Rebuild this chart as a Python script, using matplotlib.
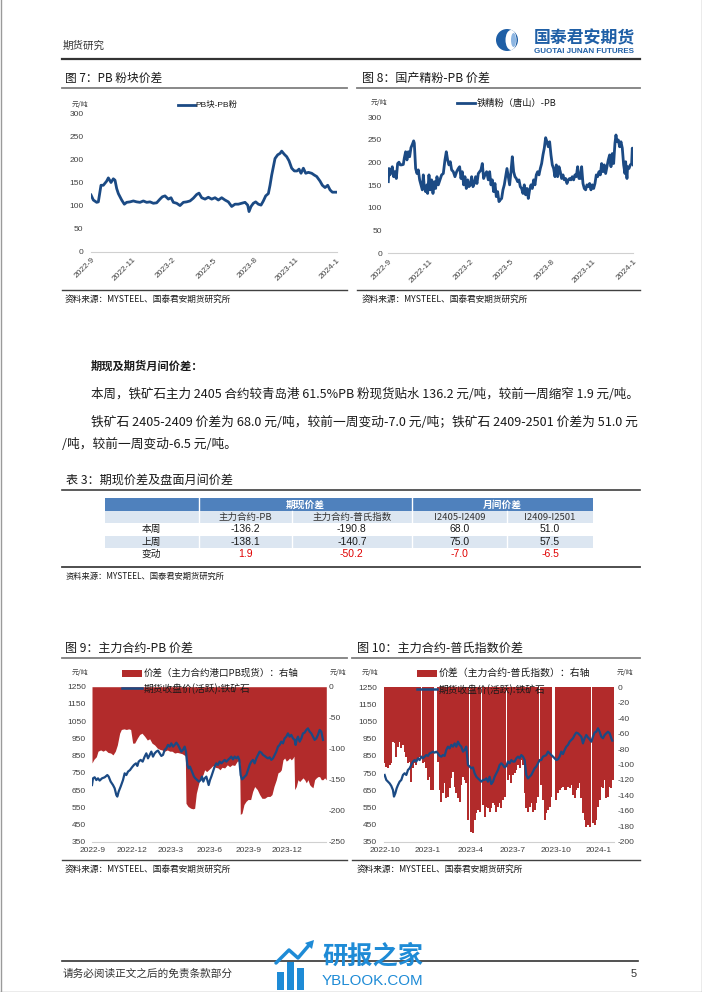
import numpy as np
import matplotlib
matplotlib.use('Agg')
import matplotlib.pyplot as plt
from matplotlib.lines import Line2D
from matplotlib.patches import Rectangle, Ellipse, Polygon

plt.rcParams['font.family'] = ['Liberation Sans', 'Noto Sans CJK SC', 'DejaVu Sans']
plt.rcParams['axes.unicode_minus'] = False
nan = float('nan')

# ---------------- data ----------------
# 图7 PB块-PB粉 (元/吨)
t7 = [18,25,35,40,48,55,65,70,78,85,90,95,100,110,118,125,135,145,155,165,175,185,195,205,215,225,232,240,250,258,
      265,275,285,295,305,315,325,335,342,350,360,370,380,390,400,410,420,430,440,450,460,470,480,488,492,498,505,512,520,528,
      535,542,550,555,560,565,570,578,585,590,598,605,612,620,628,636,642,648,655,662,670,680,688,695,705,712,720,728,735,742,750,755]
v7 = [123,112,107,108,144,144,153,160,150,158,155,137,126,112,103,107,108,110,108,107,110,107,108,105,106,114,119,121,114,117,
      107,105,100,107,108,110,116,124,127,117,114,118,114,117,112,117,112,108,98,103,103,105,107,101,87,98,105,108,103,101,
      110,121,126,144,166,184,202,210,213,218,211,206,197,181,175,175,179,170,181,170,172,170,166,163,153,144,139,144,134,129,129,129]

# 图8 铁精粉(唐山)-PB (元/吨)
t8 = [10,12,15,18,22,26,30,34,38,42,46,50,55,58,62,66,70,74,78,82,86,88,92,96,100,104,108,112,115,118,
      122,126,128,132,136,140,144,148,152,156,160,165,170,175,180,184,188,192,196,200,205,210,215,220,224,228,232,236,240,244,
      248,252,256,260,264,268,272,276,280,284,288,292,296,300,305,310,314,318,322,326,330,334,338,342,346,350,354,358,362,366,
      370,374,378,382,386,390,394,398,402,406,410,414,418,422,426,430,434,438,442,446,450,454,458,462,466,470,474,478,482,486,
      490,494,498,502,506,510,514,518,522,526,530,534,538,542,546,550,554,558,562,566,570,574,578,582,586,590,594,598,602,606,
      610,614,618,622,626,630,634,638,642,646,650,654,658,662,666,670,674,678,682,686,690,693,696,700,704,708,712,716,720,722,
      726,728,732,736,740,742,745]
v8 = [158,187,173,180,191,169,180,165,198,201,195,195,196,210,224,206,224,213,233,240,248,243,187,176,184,162,151,140,173,147,
      136,151,132,173,140,162,132,158,143,169,151,162,173,176,206,224,206,195,202,184,180,169,180,187,191,165,180,151,169,143,
      162,147,151,169,147,154,169,154,176,180,184,198,165,173,180,162,180,151,162,136,154,125,136,114,118,121,140,151,169,187,
      169,151,180,213,180,169,165,158,162,147,143,132,151,129,143,121,140,151,143,162,151,173,180,173,187,198,217,232,255,246,
      235,246,217,195,187,169,195,169,191,180,165,173,162,165,154,162,165,162,169,162,173,169,191,165,165,191,154,143,140,151,
      147,154,140,151,143,154,173,169,180,173,198,180,195,176,191,206,217,191,220,198,243,261,246,250,235,246,232,195,176,202,
      165,191,187,195,198,232,195]

# 图9 价差(主力合约-港口PB现货, 右轴) 与 期货收盘价(活跃):铁矿石 (左轴)
t9_basis = [12,18,25,30,38,45,52,60,68,75,82,88,95,100,108,115,122,128,134,140,148,155,162,170,178,185,192,200,208,215,
            222,230,238,245,252,260,268,275,282,288,292,294,300,308,315,320,325,330,335,340,345,350,356,362,368,375,382,390,396,402,
            410,418,425,432,440,448,452,455,457,462,468,474,480,488,494,500,508,515,522,530,538,546,552,558,565,570,576,580,585,590,
            595,600,605,610,615,618,620,625,630,635,640,645,650,655,660,665,670,675,680,685,690,695,700,705,710,715]
v9_basis = [-123,-117,-113,-104,-102,-104,-102,-106,-107,-110,-104,-94,-75,-69,-68,-69,-68,-69,-91,-91,
            -83,-77,-75,-80,-86,-84,-91,-94,-99,-101,-102,-104,-102,-104,-104,-107,-106,-107,-108,-110,
            -112,-188,-193,-196,-197,-196,-172,-161,-150,-145,-142,-134,-137,-134,-131,-127,-130,-131,-134,-130,
            -131,-126,-129,-126,-127,-120,-120,-123,-206,-204,-190,-185,-182,-182,-169,-161,-166,-174,-180,-180,
            -177,-177,-174,-161,-150,-139,-137,-134,-118,-115,-120,-118,-115,-118,-115,-112,-166,-161,-150,-153,
            -150,-147,-150,-155,-150,-158,-161,-163,-150,-147,-145,-145,-150,-150,-147,-150]
t9_fut = [12,15,20,25,30,35,42,50,58,62,68,75,80,85,88,92,98,105,110,115,120,126,132,138,144,148,152,158,164,170,
          175,180,185,190,195,200,205,210,215,220,225,230,235,240,245,250,255,260,265,270,275,280,285,290,294,298,302,306,312,318,
          322,328,333,338,342,346,350,355,358,362,366,370,375,380,385,390,395,400,405,410,415,420,425,430,435,440,445,450,454,458,
          462,466,470,475,480,485,490,495,500,505,510,515,520,525,530,535,540,545,550,555,560,565,570,575,580,585,590,595,600,605,
          610,615,620,623,626,630,635,640,645,650,655,660,665,670,675,680,685,690,695,700,705]
v9_fut = [679,718,724,708,718,705,718,724,737,728,699,679,660,621,612,641,670,708,747,737,757,766,782,796,805,790,815,825,815,844,
          863,834,854,873,844,863,873,879,863,848,854,883,892,912,902,921,902,912,925,912,892,873,883,902,873,796,776,786,757,728,
          718,708,699,708,728,699,718,728,708,679,708,728,757,786,805,796,815,805,815,825,815,825,834,844,828,844,834,844,825,737,
          712,718,728,737,766,796,815,825,805,834,854,873,867,854,848,840,834,840,825,834,854,873,902,912,931,921,950,960,979,960,
          970,950,941,912,941,960,931,950,979,983,999,1008,989,979,960,941,950,970,999,989,941]

# 图10 价差(主力合约-普氏指数, 右轴) 与 期货收盘价(活跃):铁矿石 (左轴); nan = 无数据
t10_basis = list(range(20, 706, 5))
v10_basis = [-98.5,-103.7,-105.0,-100.6,-98.5,-70.4,-72.6,-89.9,-76.9,-70.4,
             -79.1,-74.7,-83.4,-89.9,-98.5,-96.3,-122.2,-105.0,-98.5,-100.6,
             -94.2,-89.9,nan,-98.5,-96.3,-105.0,-120.1,-115.8,-133.0,-133.0,
             nan,nan,-96.3,-133.0,-148.2,-137.4,-124.4,-143.8,-141.7,-130.9,
             -117.9,-109.3,-128.7,-137.4,-143.8,-148.2,-126.6,-115.8,-120.1,-124.4,
             -171.9,nan,-187.0,-189.2,-171.9,-163.3,-159.0,-161.1,nan,-152.5,
             -167.6,-154.6,-156.8,-161.1,-156.8,-150.3,-152.5,-161.1,-154.6,-150.3,
             -156.8,-146.0,-141.7,nan,-120.1,-113.6,-124.4,-113.6,-111.4,-107.1,
             -100.6,-105.0,-94.2,-100.6,-137.4,-156.8,-161.1,-154.6,-150.3,-161.1,
             -159.0,-150.3,-141.7,nan,-126.6,-146.0,-171.9,-163.3,-159.0,-154.6,
             -141.7,nan,nan,-146.0,-137.4,-133.0,-130.9,-128.7,-133.0,-133.0,
             -128.7,-130.9,-126.6,-139.5,-143.8,-133.0,-130.9,-124.4,-143.8,-163.3,
             -171.9,-180.5,-178.4,-180.5,nan,-176.2,-178.4,-171.9,-154.6,-146.0,
             -128.7,-130.9,-120.1,-143.8,-141.7,-128.7,-130.9,-120.1]
t10_fut = [20,25,30,35,40,45,48,52,56,60] + list(range(65, 701, 5)) + [703]
v10_fut = [739,710,700,690,675,651,613,632,661,680,700,710,739,749,739,768,778,797,817,826,
           817,836,826,846,836,846,855,850,865,869,875,869,875,865,850,846,855,850,885,904,
           894,914,904,923,904,933,914,904,875,885,904,797,788,778,783,749,729,719,710,700,
           710,710,719,700,729,686,700,729,749,768,797,807,797,783,791,817,807,826,817,817,
           836,846,836,855,846,826,739,719,729,739,758,778,788,807,826,826,846,850,855,875,
           865,855,846,836,826,830,846,875,861,885,904,914,933,943,953,972,986,982,972,962,
           923,953,972,958,947,933,962,986,991,1011,991,962,953,972,982,991,982,953,939]

ticks7 = ['2022-9', '2022-11', '2023-2', '2023-5', '2023-8', '2023-11', '2024-1']
ticks8 = ['2022-9', '2022-11', '2023-2', '2023-5', '2023-8', '2023-11', '2024-1']
ticks9 = ['2022-9', '2022-12', '2023-3', '2023-6', '2023-9', '2023-12']
ticks10 = ['2022-10', '2023-1', '2023-4', '2023-7', '2023-10', '2024-1']

table_groups = ['期现价差', '月间价差']
table_cols = ['主力合约-PB', '主力合约-普氏指数', 'I2405-I2409', 'I2409-I2501']
table_rows = ['本周', '上周', '变动']
table_vals = [[-136.2, -190.8, 68.0, 51.0],
              [-138.1, -140.7, 75.0, 57.5],
              [1.9, -50.2, -7.0, -6.5]]

# ---------------- figure helpers ----------------
W, H = 702, 992
fig = plt.figure(figsize=(W / 100, H / 100), dpi=100)
fig.patch.set_facecolor('white')
R = fig.canvas.get_renderer()

BLUE = '#1B4A84'
RED = '#B22B2B'
TXT = '#1a1a1a'
TICK = '#404040'
CJK = ['Noto Sans CJK SC', 'DejaVu Sans']


def fx(x):
    return x / W


def fy(y):
    return 1 - y / H


def ftext(x, y, s, size=8, width=None, ha='left', va='center', family=None, **kw):
    if family is not None:
        kw['family'] = family
    t = fig.text(fx(x), fy(y), s, fontsize=size, ha=ha, va=va, color=kw.pop('color', TXT), **kw)
    if width:
        w = t.get_window_extent(renderer=R).width
        t.set_fontsize(size * width / w)
    return t


def hline(x0, x1, y, color='#404040', lw=1.0):
    fig.add_artist(Line2D([fx(x0), fx(x1)], [fy(y), fy(y)], color=color, lw=lw))


def vline(x, y0, y1, color='#404040', lw=1.0):
    fig.add_artist(Line2D([fx(x), fx(x)], [fy(y0), fy(y1)], color=color, lw=lw))


def rect(x0, y0, x1, y1, color):
    fig.add_artist(Rectangle((fx(x0), fy(y1)), (x1 - x0) / W, (y1 - y0) / H,
                             facecolor=color, edgecolor='none', transform=fig.transFigure))


def axes_px(x0, y0, x1, y1):
    ax = fig.add_axes([fx(x0), fy(y1), (x1 - x0) / W, (y1 - y0) / H])
    ax.patch.set_visible(False)
    return ax


def clean(ax, bottom=True):
    for s in ['top', 'right', 'left']:
        ax.spines[s].set_visible(False)
    ax.spines['bottom'].set_visible(bottom)
    ax.spines['bottom'].set_color('#D0D0D0')
    ax.spines['bottom'].set_linewidth(0.8)


# ---------------- page frame ----------------
vline(0.5, 0, 991.5, color='#9a9a9a', lw=1.0)
vline(701.5, 0, 991.5, color='#9a9a9a', lw=1.0)
hline(0, 702, 991.5, color='#9a9a9a', lw=1.0)

# header
ftext(62.6, 46, '期货研究', size=8, width=42, family=CJK, color='#333333')
fig.add_artist(Ellipse((fx(507), fy(40)), 22 / W, 22 / H, facecolor='#1F5FA6', edgecolor='none'))
fig.add_artist(Ellipse((fx(511), fy(40)), 11 / W, 20 / H, facecolor='white', edgecolor='none'))
fig.add_artist(Ellipse((fx(513.5), fy(40)), 5 / W, 14 / H, facecolor='#8DB6E2', edgecolor='none'))
ftext(534, 38, '国泰君安期货', size=12, width=101, family=CJK, color='#1F5FA6', fontweight='bold')
ftext(534, 51.5, 'GUOTAI JUNAN FUTURES', size=5, width=101, color='#1F5FA6', fontweight='bold')
hline(62, 640, 59, color='#333333', lw=1.6)

# ---------------- 图7 ----------------
ftext(65, 78, '图 7：PB 粉块价差', size=9, width=97, family=CJK)
hline(62, 347, 88, color='#7f7f7f', lw=1.3)
ax7 = axes_px(91, 113.3, 336.7, 251.7)
ax7.plot(t7, v7, color=BLUE, lw=2.0, solid_joinstyle='round')
ax7.set_xlim(t7[0], t7[-1])
ax7.set_ylim(0, 300)
ax7.set_yticks(range(0, 301, 50))
ax7.set_xticks(np.linspace(t7[0], t7[-1], len(ticks7)))
ax7.set_xticklabels(ticks7, rotation=45, ha='right', va='top', rotation_mode='anchor')
clean(ax7)
ax7.tick_params(axis='y', length=0, labelsize=6, colors=TICK, pad=5.5)
ax7.tick_params(axis='x', length=0, labelsize=6, colors=TICK, pad=3.5)
ftext(88, 105, '元/吨', size=5, ha='right', family=CJK, color=TICK)
fig.add_artist(Line2D([fx(178), fx(195)], [fy(104.5), fy(104.5)], color=BLUE, lw=2.0))
ftext(195.7, 104.5, 'PB块-PB粉', size=6, width=42, color=TXT)
hline(62, 347, 290, color='#404040', lw=1.0)
ftext(65, 299, '资料来源：MYSTEEL、国泰君安期货研究所', size=6.5, width=166.7, family=CJK)

# ---------------- 图8 ----------------
ftext(361.7, 78, '图 8：国产精粉-PB 价差', size=9, width=128, family=CJK)
hline(357, 640, 88, color='#7f7f7f', lw=1.3)
ax8 = axes_px(388.3, 117.3, 633.3, 253.3)
ax8.plot(t8, v8, color=BLUE, lw=2.0, solid_joinstyle='round')
ax8.set_xlim(t8[0], t8[-1])
ax8.set_ylim(0, 300)
ax8.set_yticks(range(0, 301, 50))
ax8.set_xticks(np.linspace(t8[0], t8[-1], len(ticks8)))
ax8.set_xticklabels(ticks8, rotation=45, ha='right', va='top', rotation_mode='anchor')
clean(ax8)
ax8.tick_params(axis='y', length=0, labelsize=6, colors=TICK, pad=4.5)
ax8.tick_params(axis='x', length=0, labelsize=6, colors=TICK, pad=3.5)
ftext(387, 103, '元/吨', size=5, ha='right', family=CJK, color=TICK)
fig.add_artist(Line2D([fx(456.7), fx(475)], [fy(103.3), fy(103.3)], color=BLUE, lw=2.0))
ftext(476.7, 103.3, '铁精粉（唐山）-PB', size=6, width=80, family=CJK)
hline(357, 640, 290, color='#404040', lw=1.0)
ftext(361.7, 299, '资料来源：MYSTEEL、国泰君安期货研究所', size=6.5, width=166.7, family=CJK)

# ---------------- 正文 ----------------
ftext(90.8, 366, '期现及期货月间价差：', size=8.5, width=112, family=CJK, fontweight='bold')
ftext(90.8, 394, '本周，铁矿石主力 2405 合约较青岛港 61.5%PB 粉现货贴水 136.2 元/吨，较前一周缩窄 1.9 元/吨。',
      size=8.5, width=547, family=CJK)
l2 = ftext(90.8, 422.5, '铁矿石 2405-2409 价差为 68.0 元/吨，较前一周变动-7.0 元/吨；铁矿石 2409-2501 价差为 51.0 元',
           size=8.5, width=547, family=CJK)
ftext(62.2, 445, '/吨，较前一周变动-6.5 元/吨。', size=l2.get_fontsize(), family=CJK)

# ---------------- 表3 ----------------
ftext(65.9, 480, '表 3：期现价差及盘面月间价差', size=9, width=167, family=CJK)
hline(62, 640, 490.5, color='#404040', lw=1.2)
cx = [104.8, 198.5, 292, 411.6, 507, 593]
ry = [498, 511, 523, 535.5, 548, 560.5]
rect(cx[0], ry[0], cx[-1], ry[1], '#4F81BD')
rect(cx[0], ry[1], cx[-1], ry[2], '#DCE6F1')
rect(cx[0], ry[3], cx[-1], ry[4], '#DCE6F1')
for xv in cx[1:-1]:
    vline(xv, ry[1] if xv in (cx[2], cx[4]) else ry[0], ry[-1], color='white', lw=1.0)
ftext((cx[1] + cx[3]) / 2, (ry[0] + ry[1]) / 2, table_groups[0], size=7, family=CJK, ha='center',
      color='white', fontweight='bold')
ftext((cx[3] + cx[5]) / 2, (ry[0] + ry[1]) / 2, table_groups[1], size=7, family=CJK, ha='center',
      color='white', fontweight='bold')
for j, c in enumerate(table_cols):
    ftext((cx[j + 1] + cx[j + 2]) / 2, (ry[1] + ry[2]) / 2, c, size=6.8, family=CJK, ha='center', color='#333333')
for i, rname in enumerate(table_rows):
    yc = (ry[i + 2] + ry[i + 3]) / 2
    ftext((cx[0] + cx[1]) / 2, yc, rname, size=7, family=CJK, ha='center')
    for j, val in enumerate(table_vals[i]):
        col = '#E00000' if rname == '变动' else TXT
        ftext((cx[j + 1] + cx[j + 2]) / 2, yc, f'{val:.1f}', size=7.5, ha='center', color=col)
hline(62, 640, 567, color='#404040', lw=1.3)
ftext(65.9, 576, '资料来源：MYSTEEL、国泰君安期货研究所', size=6.5, width=159, family=CJK)

# ---------------- 图9 ----------------
ftext(65, 648.3, '图 9：主力合约-PB 价差', size=9, width=128, family=CJK)
hline(62, 347, 658, color='#7f7f7f', lw=1.3)
ax9 = axes_px(92, 686.7, 326.3, 841.7)
ax9r = ax9.twinx()
ax9r.fill_between(t9_basis, 0, v9_basis, color=RED, lw=0)
ax9.plot(t9_fut, v9_fut, color=BLUE, lw=1.6, solid_joinstyle='round')
ax9.set_zorder(ax9r.get_zorder() + 1)
ax9.patch.set_visible(False)
ax9r.patch.set_visible(False)
ax9.set_xlim(12, 715)
ax9.set_ylim(350, 1250)
ax9.set_yticks(range(350, 1251, 100))
ax9r.set_ylim(-250, 0)
ax9r.set_yticks(range(-250, 1, 50))
ax9.set_xticks(np.linspace(15, 597, len(ticks9)))
ax9.set_xticklabels(ticks9)
clean(ax9)
clean(ax9r, bottom=False)
ax9.tick_params(axis='y', length=0, labelsize=6, colors=TICK, pad=4.3)
ax9r.tick_params(axis='y', length=0, labelsize=6, colors=TICK, pad=1.5)
ax9.tick_params(axis='x', length=0, labelsize=6, colors=TICK, pad=4)
ftext(88, 673, '元/吨', size=5, ha='right', family=CJK, color=TICK)
ftext(330, 673, '元/吨', size=5, ha='left', family=CJK, color=TICK)
rect(121.7, 669.5, 141.7, 677, RED)
ftext(143.3, 673.3, '价差（主力合约港口PB现货）：右轴', size=6, width=155, family=CJK)
fig.add_artist(Line2D([fx(121.7), fx(141.7)], [fy(688.3), fy(688.3)], color=BLUE, lw=1.8))
ftext(143.3, 688.3, '期货收盘价(活跃):铁矿石', size=6, width=107, family=CJK)
hline(62, 347, 860, color='#404040', lw=1.0)
ftext(65, 869, '资料来源：MYSTEEL、国泰君安期货研究所', size=6.5, width=166.7, family=CJK)

# ---------------- 图10 ----------------
ftext(356.7, 648.3, '图 10：主力合约-普氏指数价差', size=9, width=166, family=CJK)
hline(352, 640, 658, color='#7f7f7f', lw=1.3)
ax10 = axes_px(383.8, 687.3, 613.8, 841.7)
ax10r = ax10.twinx()
ax10r.bar(t10_basis, v10_basis, width=5.8, color=RED, linewidth=0)
ax10.plot(t10_fut, v10_fut, color=BLUE, lw=1.6, solid_joinstyle='round')
ax10.set_zorder(ax10r.get_zorder() + 1)
ax10.patch.set_visible(False)
ax10r.patch.set_visible(False)
ax10.set_xlim(17.5, 707.5)
ax10.set_ylim(350, 1250)
ax10.set_yticks(range(350, 1251, 100))
ax10r.set_ylim(-200, 0)
ax10r.set_yticks(range(-200, 1, 20))
ax10.set_xticks(np.linspace(21, 661, len(ticks10)))
ax10.set_xticklabels(ticks10)
clean(ax10)
clean(ax10r, bottom=False)
ax10.tick_params(axis='y', length=0, labelsize=6, colors=TICK, pad=5)
ax10r.tick_params(axis='y', length=0, labelsize=6, colors=TICK, pad=3)
ax10.tick_params(axis='x', length=0, labelsize=6, colors=TICK, pad=4)
ftext(378.3, 673, '元/吨', size=5, ha='right', family=CJK, color=TICK)
ftext(616.7, 673, '元/吨', size=5, ha='left', family=CJK, color=TICK)
rect(416.7, 669.5, 436.7, 677, RED)
ftext(438.3, 673.3, '价差（主力合约-普氏指数）：右轴', size=6, width=152, family=CJK)
fig.add_artist(Line2D([fx(416.7), fx(436.7)], [fy(689.3), fy(689.3)], color=BLUE, lw=1.8))
ftext(438.3, 689.3, '期货收盘价(活跃):铁矿石', size=6, width=107, family=CJK)
hline(352, 640, 860, color='#404040', lw=1.0)
ftext(356.7, 869, '资料来源：MYSTEEL、国泰君安期货研究所', size=6.5, width=166.7, family=CJK)

# ---------------- footer ----------------
hline(62, 638, 961, color='#333333', lw=1.2)
ftext(62.6, 974, '请务必阅读正文之后的免责条款部分', size=7.5, width=170, family=CJK, color='#333333')
ftext(637, 974, '5', size=8, ha='right', color='#333333')
YB = '#1E8BD6'
for bx, btop in [(277, 972), (287, 962), (297, 968)]:
    rect(bx, btop, bx + 7, 990, YB)
fig.add_artist(Line2D([fx(276), fx(289), fx(298), fx(310)], [fy(963), fy(950), fy(958), fy(944)],
                      color=YB, lw=2.5, solid_capstyle='round'))
fig.add_artist(Polygon([(fx(314), fy(940)), (fx(305), fy(943)), (fx(312), fy(949))], closed=True,
                       facecolor=YB, edgecolor='none', transform=fig.transFigure))
ftext(322, 956, '研报之家', size=18, width=101, family=CJK, color=YB, fontweight='bold')
ftext(322, 981, 'YBLOOK.COM', size=10, width=101, color=YB)

fig.savefig('out.png', dpi=100, facecolor='white')
